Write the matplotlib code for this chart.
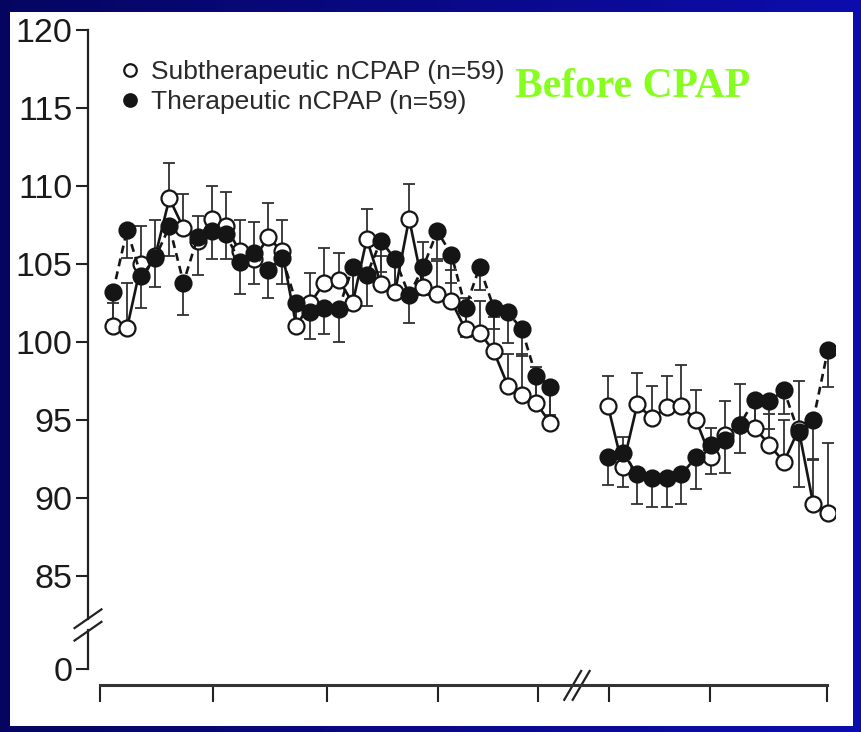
import numpy as np
import matplotlib
matplotlib.use("Agg")
import matplotlib.pyplot as plt
from matplotlib.lines import Line2D
from matplotlib.patches import Rectangle
import matplotlib.transforms as mtransforms

# ---------------- data ----------------
left_t = np.arange(32)
right_t = 35.1 + 1.04 * np.arange(16)

sub_left = [101.0, 100.9, 105.0, 105.5, 109.2, 107.3, 106.5, 107.9, 107.4, 105.8,
            105.3, 106.7, 105.8, 101.0, 102.5, 103.8, 104.0, 102.5, 106.6, 103.7,
            103.2, 107.9, 103.5, 103.1, 102.6, 100.8, 100.6, 99.4, 97.2, 96.6,
            96.1, 94.8]
ther_left = [103.2, 107.2, 104.2, 105.4, 107.4, 103.8, 106.7, 107.1, 106.9, 105.1,
             105.7, 104.6, 105.4, 102.5, 101.9, 102.2, 102.1, 104.8, 104.3, 106.5,
             105.3, 103.0, 104.8, 107.1, 105.6, 102.2, 104.8, 102.2, 101.9, 100.8,
             97.8, 97.1]
sub_left_err = [1.5, 2.9, 2.4, 2.3, 2.3, 2.2, 1.6, 2.1, 2.2, 2.0, 2.4, 2.2, 2.0, 1.8,
                1.9, 2.2, 1.7, 2.0, 1.9, 1.8, 1.8, 2.2, 2.9, 2.1, 2.0, 2.0, 2.0, 2.2,
                2.0, 2.6, 2.3, 2.7]
ther_left_err = [1.8, 1.8, 2.0, 1.9, 1.9, 2.1, 2.4, 1.8, 1.6, 2.0, 2.0, 1.8, 1.7, 1.8,
                 1.7, 1.7, 2.1, 1.9, 2.0, 2.0, 1.8, 1.8, 1.8, 1.8, 1.8, 1.9, 1.5, 1.4,
                 2.0, 1.7, 1.6, 1.8]

sub_right = [95.9, 92.0, 96.0, 95.1, 95.8, 95.9, 95.0, 92.6, 94.0, 94.7, 94.5, 93.4,
             92.3, 94.4, 89.6, 89.0]
ther_right = [92.6, 92.9, 91.5, 91.3, 91.3, 91.5, 92.6, 93.4, 93.7, 94.7, 96.3, 96.2,
              96.9, 94.2, 95.0, 99.5]
sub_right_err = [1.9, 1.9, 2.0, 2.1, 2.0, 2.6, 1.9, 1.9, 2.2, 2.6, 1.8, 2.0, 2.7, 3.1,
                 2.8, 4.5]
ther_right_err = [1.8, 2.2, 1.9, 1.9, 1.9, 1.9, 2.0, 1.9, 2.1, 1.8, 1.5, 1.8, 1.5, 3.5,
                  2.5, 2.4]

ytick_vals = [79, 85, 90, 95, 100, 105, 110, 115, 120]
ytick_labels = ["0", "85", "90", "95", "100", "105", "110", "115", "120"]
xtick_vals = [-0.92, 7.09, 15.18, 23.05, 30.14, 35.18, 42.34, 50.64]

legend_labels = ["Subtherapeutic nCPAP (n=59)", "Therapeutic nCPAP (n=59)"]
title_text = "Before CPAP"

# ---------------- figure ----------------
W, H = 861, 732
fig = plt.figure(figsize=(W / 100, H / 100), dpi=100)

# blue gradient frame
bg = fig.add_axes([0, 0, 1, 1], zorder=-10)
grad = np.linspace(0, 1, 256)[None, :, None]
c0 = np.array([0.02, 0.02, 0.38])
c1 = np.array([0.05, 0.05, 0.68])
img = c0 + (c1 - c0) * grad
img = np.repeat(img, 2, axis=0)
bg.imshow(img, aspect="auto", extent=[0, 1, 0, 1])
bg.add_patch(Rectangle((10 / W, 6 / H), (853 - 10) / W, (726 - 12) / H,
                       facecolor="white", edgecolor="none"))
bg.set_xlim(0, 1)
bg.set_ylim(0, 1)
bg.axis("off")

font = ["Liberation Sans", "DejaVu Sans"]

ax = fig.add_axes([88 / W, 47 / H, (835 - 88) / W, 655 / H])
ax.set_facecolor("none")
ax.set_xlim(-1.77, 51.2)
ax.set_ylim(78.0, 120.0)

ink = "#151515"
ms = 11.5

def draw(t, y, err, upper, filled, dashed):
    err = np.asarray(err)
    zeros = np.zeros_like(err)
    yerr = [zeros, err] if upper else [err, zeros]
    ax.errorbar(t, y, yerr=yerr, fmt="none", ecolor="#303030", elinewidth=1.3,
                capsize=4.5, capthick=1.3, zorder=2)
    ax.plot(t, y, color=ink, lw=1.9, ls=(0, (3, 2)) if dashed else "-",
            marker="o", ms=ms, mew=1.6, mec=ink,
            mfc=ink if filled else "white", zorder=3 if not filled else 4)

draw(left_t, sub_left, sub_left_err, True, False, False)
draw(right_t, sub_right, sub_right_err, True, False, False)
draw(left_t, ther_left, ther_left_err, False, True, True)
draw(right_t, ther_right, ther_right_err, False, True, True)

# axes styling
for s in ["top", "right", "left"]:
    ax.spines[s].set_visible(False)
ax.spines["bottom"].set_bounds(xtick_vals[0], xtick_vals[-1])
ax.spines["bottom"].set_linewidth(2.2)
ax.spines["bottom"].set_color("#333333")

ax.set_yticks(ytick_vals)
ax.set_yticklabels(ytick_labels, fontfamily=font, fontsize=24.5, color="#1a1a1a")
ax.tick_params(axis="y", length=9, width=1.5, color="#222222", pad=2, direction="out")
ax.set_xticks(xtick_vals)
ax.set_xticklabels([])
ax.tick_params(axis="x", length=12, width=1.5, color="#222222", direction="out")

# manual left axis with break
tr = mtransforms.blended_transform_factory(ax.transAxes, ax.transData)
ax.plot([0, 0], [82.2, 120], transform=tr, color="#222222", lw=1.6, clip_on=False)
ax.plot([0, 0], [79, 81.5], transform=tr, color="#222222", lw=1.6, clip_on=False)
for yc in (81.45, 82.25):
    ax.plot([-0.018, 0.018], [yc - 0.6, yc + 0.6], transform=tr, color="#222222",
            lw=1.6, clip_on=False)

# x-axis break marks
for xc in (32.6, 33.2):
    ax.plot([xc - 0.6, xc + 0.6], [77.05, 78.9], color="#222222", lw=1.6, clip_on=False)

# legend
handles = [Line2D([], [], ls="none", marker="o", ms=9, mfc="white", mec=ink, mew=1.6),
           Line2D([], [], ls="none", marker="o", ms=9, mfc=ink, mec=ink, mew=1.6)]
leg = ax.legend(handles, legend_labels, loc="upper left", bbox_to_anchor=(0.012, 0.99),
                frameon=False, handlelength=0.7, handletextpad=0.45, labelspacing=0.22,
                prop={"family": font, "size": 19})
for t in leg.get_texts():
    t.set_color("#2a2a2a")

# title text
fig.text(515 / W, 1 - 87 / H, title_text, color="#86ff1e", fontsize=30,
         fontweight="bold", family=["Liberation Serif", "DejaVu Serif"],
         ha="left", va="center")

fig.savefig("out.png", dpi=100)
